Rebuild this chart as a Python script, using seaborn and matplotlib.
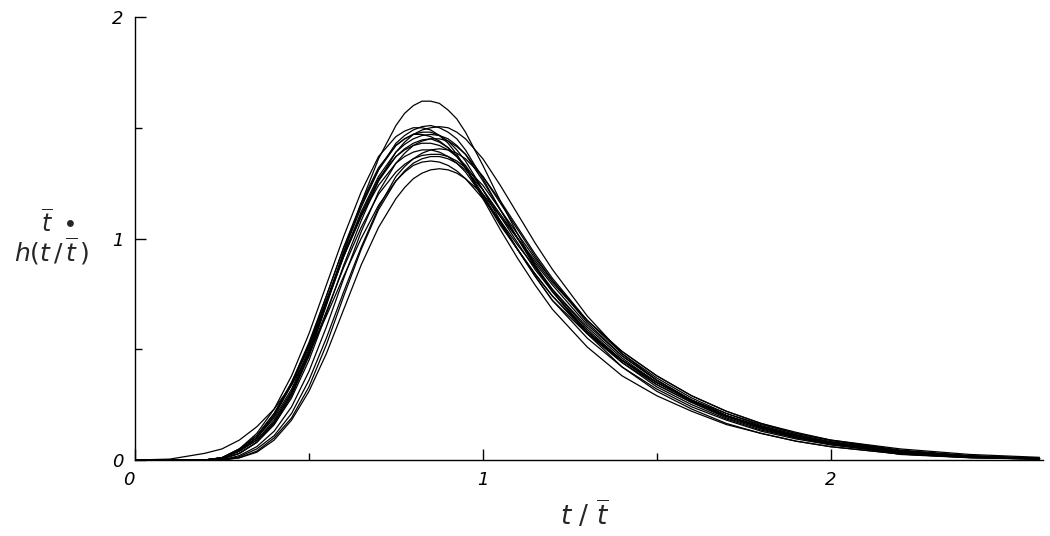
import numpy as np
import pandas as pd
import matplotlib
matplotlib.use("Agg")
import matplotlib.pyplot as plt
import matplotlib.transforms as mtransforms
import seaborn as sns

sns.set_style("ticks")
plt.rcParams["font.family"] = ["DejaVu Sans"]
plt.rcParams["mathtext.fontset"] = "dejavusans"

# normalised time t / t_bar (shared sampling positions)
x_grid = [0.0, 0.1, 0.2, 0.25, 0.3, 0.35, 0.4, 0.45, 0.5, 0.55, 0.6, 0.65, 0.7,
          0.75, 0.775, 0.8, 0.825, 0.85, 0.875, 0.9, 0.925, 0.95,
          1.0, 1.05, 1.1, 1.15, 1.2, 1.3, 1.4, 1.5,
          1.6, 1.7, 1.8, 1.9, 2.0, 2.2, 2.4, 2.6]

# t_bar * h(t/t_bar) for each measured curve
curve_01 = [0, 0, 0, 0.005, 0.03, 0.08, 0.16, 0.29, 0.47, 0.70, 0.94, 1.16, 1.36,
            1.51, 1.565, 1.60, 1.62, 1.62, 1.61, 1.58, 1.54, 1.48,
            1.33, 1.17, 1.02, 0.88, 0.76, 0.57, 0.42,
            0.31, 0.23, 0.165, 0.12, 0.085, 0.06, 0.027, 0.011, 0.004]
curve_02 = [0, 0, 0, 0.01, 0.04, 0.09, 0.18, 0.31, 0.49, 0.71, 0.94, 1.14, 1.31,
            1.43, 1.465, 1.49, 1.505, 1.51, 1.50, 1.48, 1.45, 1.40,
            1.27, 1.13, 1.00, 0.87, 0.76, 0.58, 0.44,
            0.33, 0.25, 0.185, 0.135, 0.10, 0.07, 0.032, 0.014, 0.005]
curve_03 = [0, 0, 0, 0.005, 0.03, 0.08, 0.16, 0.28, 0.45, 0.66, 0.88, 1.08, 1.26,
            1.39, 1.435, 1.47, 1.49, 1.50, 1.505, 1.50, 1.48, 1.45,
            1.36, 1.24, 1.11, 0.98, 0.86, 0.65, 0.48,
            0.36, 0.27, 0.20, 0.145, 0.105, 0.075, 0.035, 0.015, 0.006]
curve_04 = [0, 0, 0, 0.01, 0.05, 0.11, 0.21, 0.35, 0.53, 0.74, 0.96, 1.15, 1.31,
            1.42, 1.45, 1.47, 1.48, 1.48, 1.465, 1.44, 1.40, 1.35,
            1.22, 1.08, 0.95, 0.83, 0.72, 0.55, 0.42,
            0.32, 0.24, 0.18, 0.13, 0.095, 0.068, 0.03, 0.012, 0.004]
curve_05 = [0, 0, 0, 0.008, 0.04, 0.10, 0.19, 0.32, 0.50, 0.71, 0.92, 1.12, 1.28,
            1.39, 1.425, 1.45, 1.465, 1.47, 1.465, 1.45, 1.42, 1.38,
            1.26, 1.13, 1.00, 0.88, 0.77, 0.59, 0.45,
            0.34, 0.26, 0.19, 0.14, 0.10, 0.072, 0.033, 0.014, 0.005]
curve_06 = [0, 0, 0, 0.01, 0.04, 0.09, 0.17, 0.30, 0.48, 0.70, 0.92, 1.10, 1.26,
            1.37, 1.405, 1.43, 1.445, 1.45, 1.435, 1.41, 1.37, 1.32,
            1.19, 1.06, 0.95, 0.83, 0.72, 0.57, 0.45,
            0.35, 0.27, 0.20, 0.15, 0.11, 0.075, 0.025, 0.01, 0.004]
curve_07 = [0, 0, 0, 0, 0.02, 0.06, 0.13, 0.24, 0.40, 0.60, 0.82, 1.03, 1.21,
            1.34, 1.385, 1.42, 1.44, 1.45, 1.45, 1.44, 1.415, 1.38,
            1.28, 1.16, 1.04, 0.92, 0.81, 0.62, 0.47,
            0.36, 0.27, 0.20, 0.15, 0.11, 0.08, 0.037, 0.016, 0.006]
curve_08 = [0, 0, 0, 0.01, 0.05, 0.11, 0.21, 0.35, 0.52, 0.72, 0.92, 1.10, 1.24,
            1.34, 1.37, 1.39, 1.40, 1.40, 1.39, 1.37, 1.34, 1.30,
            1.19, 1.07, 0.95, 0.84, 0.74, 0.57, 0.44,
            0.34, 0.26, 0.195, 0.145, 0.105, 0.075, 0.036, 0.016, 0.006]
curve_09 = [0, 0, 0, 0.005, 0.03, 0.08, 0.17, 0.30, 0.47, 0.67, 0.87, 1.05, 1.20,
            1.30, 1.335, 1.36, 1.375, 1.38, 1.38, 1.37, 1.35, 1.32,
            1.24, 1.13, 1.02, 0.91, 0.81, 0.63, 0.49,
            0.38, 0.29, 0.22, 0.165, 0.12, 0.088, 0.042, 0.018, 0.007]
curve_10 = [0, 0, 0, 0, 0.01, 0.04, 0.10, 0.19, 0.33, 0.52, 0.74, 0.95, 1.13,
            1.26, 1.305, 1.34, 1.36, 1.37, 1.37, 1.36, 1.34, 1.31,
            1.22, 1.11, 1.00, 0.89, 0.79, 0.61, 0.47,
            0.36, 0.27, 0.20, 0.15, 0.11, 0.08, 0.038, 0.017, 0.006]
curve_11 = [0, 0, 0, 0, 0.01, 0.035, 0.09, 0.18, 0.31, 0.48, 0.68, 0.88, 1.05,
            1.18, 1.23, 1.27, 1.295, 1.31, 1.315, 1.31, 1.295, 1.27,
            1.20, 1.10, 1.00, 0.90, 0.80, 0.63, 0.49,
            0.38, 0.29, 0.22, 0.165, 0.125, 0.09, 0.045, 0.02, 0.008]
curve_12 = [0, 0.004, 0.03, 0.05, 0.09, 0.15, 0.23, 0.34, 0.48, 0.65, 0.83, 1.00, 1.15,
            1.26, 1.30, 1.33, 1.345, 1.35, 1.345, 1.33, 1.305, 1.27,
            1.18, 1.08, 0.97, 0.87, 0.77, 0.60, 0.46,
            0.35, 0.27, 0.20, 0.15, 0.11, 0.08, 0.04, 0.018, 0.007]
curve_13 = [0, 0, 0, 0.01, 0.05, 0.12, 0.23, 0.38, 0.57, 0.79, 1.01, 1.21, 1.37,
            1.46, 1.485, 1.50, 1.50, 1.49, 1.465, 1.43, 1.38, 1.32,
            1.18, 1.04, 0.91, 0.79, 0.68, 0.51, 0.38,
            0.29, 0.22, 0.16, 0.12, 0.085, 0.06, 0.027, 0.011, 0.004]
curve_14 = [0, 0, 0, 0.01, 0.045, 0.10, 0.20, 0.34, 0.51, 0.72, 0.93, 1.11, 1.27,
            1.37, 1.40, 1.42, 1.43, 1.43, 1.42, 1.40, 1.37, 1.33,
            1.22, 1.10, 0.98, 0.86, 0.76, 0.58, 0.45,
            0.35, 0.265, 0.20, 0.145, 0.105, 0.075, 0.035, 0.015, 0.005]
curve_15 = [0, 0, 0, 0, 0.015, 0.05, 0.11, 0.21, 0.36, 0.55, 0.76, 0.96, 1.14,
            1.28, 1.325, 1.36, 1.385, 1.40, 1.405, 1.40, 1.385, 1.36,
            1.28, 1.17, 1.05, 0.93, 0.82, 0.63, 0.48,
            0.37, 0.28, 0.21, 0.155, 0.115, 0.083, 0.04, 0.017, 0.006]
curve_16 = [0, 0, 0, 0.01, 0.045, 0.10, 0.20, 0.34, 0.52, 0.74, 0.96, 1.16, 1.32,
            1.42, 1.45, 1.47, 1.47, 1.46, 1.44, 1.41, 1.37, 1.32,
            1.20, 1.07, 0.95, 0.84, 0.74, 0.58, 0.45,
            0.35, 0.27, 0.21, 0.16, 0.12, 0.09, 0.05, 0.025, 0.012]

curves = {
    "c01": curve_01, "c02": curve_02, "c03": curve_03, "c04": curve_04,
    "c05": curve_05, "c06": curve_06, "c07": curve_07, "c08": curve_08,
    "c09": curve_09, "c10": curve_10, "c11": curve_11, "c12": curve_12,
    "c13": curve_13, "c14": curve_14, "c15": curve_15, "c16": curve_16,
}

df = pd.DataFrame(
    [(name, xv, yv) for name, vals in curves.items() for xv, yv in zip(x_grid, vals)],
    columns=["curve", "x", "y"],
)

W, H = 1050, 536
fig = plt.figure(figsize=(W / 100, H / 100), dpi=100)
ax = fig.add_axes([135 / W, 76 / H, 908 / W, 443 / H])

sns.lineplot(data=df, x="x", y="y", units="curve", estimator=None,
             color="black", linewidth=0.9, ax=ax, legend=False)

ax.set_xlim(0, 2.61)
ax.set_ylim(0, 2.0)
sns.despine(ax=ax)
ax.spines["left"].set_bounds(0, 2)
for s in ("left", "bottom"):
    ax.spines[s].set_linewidth(1.0)
    ax.spines[s].set_color("black")

ax.set_xticks([0, 1, 2])
ax.set_xticklabels(["0", "1", "2"])
ax.set_xticks([0.5, 1.5], minor=True)
ax.set_yticks([0, 1, 2])
ax.set_yticklabels(["0", "1", "2"])
ax.set_yticks([0.5, 1.5], minor=True)
ax.tick_params(which="both", direction="in", color="black", width=1.0)
ax.tick_params(which="major", length=8, labelsize=13, pad=8)
ax.tick_params(which="minor", length=5)
for lab in ax.get_xticklabels() + ax.get_yticklabels():
    lab.set_style("italic")
    lab.set_color("black")
# the x "0" label sits a little left of the origin in the original
xl0 = ax.get_xticklabels()[0]
xl0.set_transform(xl0.get_transform() +
                  mtransforms.ScaledTranslation(-6 / 100, 0, fig.dpi_scale_trans))

ax.set_xlabel("")
ax.set_ylabel("")

fig.text(585 / W, 1 - 515 / H, r"$t\ /\ \overline{t}$", fontsize=19,
         ha="center", va="center")
fig.text(58 / W, 1 - 224 / H, r"$\overline{t}\ \bullet$", fontsize=17,
         ha="center", va="center")
fig.text(52 / W, 1 - 251 / H, r"$h(t\,/\,\overline{t}\,)$", fontsize=18,
         ha="center", va="center")

fig.savefig("out.png", dpi=100, facecolor="white")
